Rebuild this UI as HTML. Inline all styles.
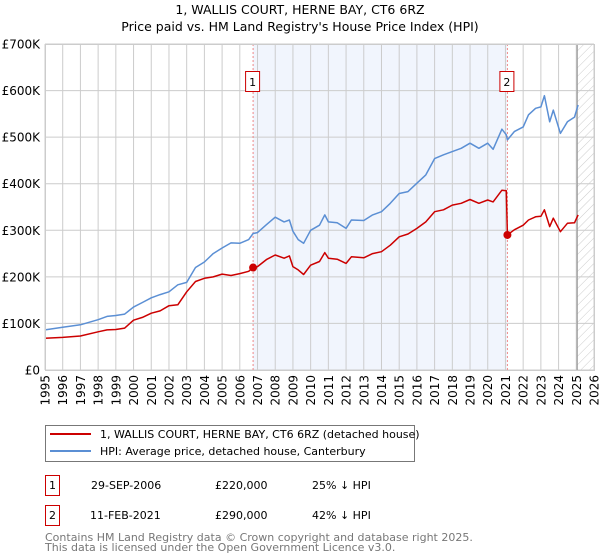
<!DOCTYPE html>
<html><head><meta charset="utf-8"><style>
body{margin:0;background:#fff;font-family:"Liberation Sans","DejaVu Sans",sans-serif;}
svg{display:block}
</style></head><body>
<svg id="c" width="600" height="560" xmlns="http://www.w3.org/2000/svg" font-family="DejaVu Sans, Liberation Sans, sans-serif">
<text x="300" y="14" text-anchor="middle" font-size="12.5">1, WALLIS COURT, HERNE BAY, CT6 6RZ</text>
<text x="300" y="31" text-anchor="middle" font-size="12.5">Price paid vs. HM Land Registry's House Price Index (HPI)</text>
<g id="plot"></g>
<g>
<rect x="45.5" y="425.5" width="369" height="36" fill="#fff" stroke="#777"/>
<line x1="50" y1="434" x2="91" y2="434" stroke="#cc0000" stroke-width="2"/>
<text x="100" y="438" font-size="11">1, WALLIS COURT, HERNE BAY, CT6 6RZ (detached house)</text>
<line x1="50" y1="451" x2="91" y2="451" stroke="#5b8fd4" stroke-width="2"/>
<text x="100" y="455" font-size="11">HPI: Average price, detached house, Canterbury</text>
</g>
<g font-size="11">
<rect x="45.5" y="475.5" width="14" height="20" fill="#fff" stroke="#cc0000"/>
<text x="52.5" y="489" text-anchor="middle">1</text>
<text x="91" y="489">29-SEP-2006</text>
<text x="215" y="489">£220,000</text>
<text x="312" y="489">25% ↓ HPI</text>
<rect x="45.5" y="505.5" width="14" height="20" fill="#fff" stroke="#cc0000"/>
<text x="52.5" y="519" text-anchor="middle">2</text>
<text x="90" y="519">11-FEB-2021</text>
<text x="215" y="519">£290,000</text>
<text x="312" y="519">42% ↓ HPI</text>
</g>
<text x="45" y="541" font-size="11" fill="#777">Contains HM Land Registry data © Crown copyright and database right 2025.</text>
<text x="45" y="551" font-size="11" fill="#777">This data is licensed under the Open Government Licence v3.0.</text>
</svg>
<script>
const dates=[1995,1996,1997,1998,1998.5,1999,1999.5,2000,2000.5,2001,2001.5,2002,2002.5,2003,2003.5,2004,2004.5,2005,2005.5,2006,2006.5,2006.75,2007,2007.5,2008,2008.5,2008.8,2009,2009.3,2009.6,2010,2010.5,2010.8,2011,2011.5,2012,2012.3,2013,2013.5,2014,2014.5,2015,2015.5,2016,2016.5,2017,2017.5,2018,2018.5,2019,2019.5,2020,2020.3,2020.8,2021.05,2021.11,2021.5,2022,2022.3,2022.7,2023,2023.2,2023.5,2023.7,2024.1,2024.5,2024.9,2025.1];
const hpiValues=[86,92,97,108,115,117,120,135,145,155,162,168,183,188,220,232,250,262,273,272,280,293,295,312,328,318,322,298,280,272,300,311,333,318,316,304,322,321,333,340,358,379,383,401,419,454,462,469,476,487,476,487,474,517,505,494,512,522,548,562,565,589,533,558,508,533,543,569];
const priceValues=[68,70,73,82,86,87,90,107,113,122,127,138,140,168,190,197,200,206,203,207,212,220,222,237,247,240,245,222,215,205,225,233,252,240,238,229,243,241,250,254,268,286,292,304,318,340,344,354,358,366,358,365,361,386,385,290,301,311,322,329,330,344,308,326,297,315,316,333];
const yTicks=[0,100,200,300,400,500,600,700];
const yTickLabels=["£0","£100K","£200K","£300K","£400K","£500K","£600K","£700K"];
const sales=[{d:2006.75,v:220,n:"1"},{d:2021.11,v:290,n:"2"}];
const X0=45,X1=594,Y0=370,Y1=44;
const xs=y=>X0+(y-1995)*(X1-X0)/31;
const ys=v=>Y0-(v/700)*(Y0-Y1);
const NS="http://www.w3.org/2000/svg";
const plot=document.getElementById('plot');
function mk(t,a,p){const e=document.createElementNS(NS,t);for(const k in a)e.setAttribute(k,a[k]);(p||plot).appendChild(e);return e;}
// shading
let sh=mk('rect',{x:xs(2006.75),y:Y1,width:xs(2021.11)-xs(2006.75),height:Y0-Y1,fill:'#eef3fc',opacity:0.8});


// hatch
const defs=mk('defs',{});
const pat=mk('pattern',{id:'h',width:6,height:6,patternUnits:'userSpaceOnUse',patternTransform:'rotate(45)'},defs);
mk('line',{x1:0,y1:0,x2:0,y2:6,stroke:'#ccc','stroke-width':1},pat);
let ht=mk('rect',{x:xs(2025.05),y:Y1,width:X1-xs(2025.05),height:Y0-Y1,fill:'url(#h)'});


// grid
for(let y=1995;y<=2026;y++){
 mk('line',{x1:xs(y),y1:Y1,x2:xs(y),y2:Y0,stroke:'#ccc','stroke-width':1});
 const t=mk('text',{x:0,y:0,'font-size':12,'text-anchor':'end',transform:`translate(${xs(y)+4.5},${Y0+5}) rotate(-90)`});
 t.textContent=y;
 
 
}
yTicks.forEach((v,i)=>{
 mk('line',{x1:X0,y1:ys(v),x2:X1,y2:ys(v),stroke:'#ccc','stroke-width':1});
 const t=mk('text',{x:40,y:ys(v)+4.5,'font-size':12,'text-anchor':'end'});
 t.textContent=yTickLabels[i];
 
 
});
mk('line',{x1:xs(2025.05),y1:Y1,x2:xs(2025.05),y2:Y0,stroke:'#999','stroke-width':1.2});
// sale lines
sales.forEach(s=>{
 mk('line',{x1:xs(s.d),y1:Y1,x2:xs(s.d),y2:Y0,stroke:'#e88','stroke-width':1,'stroke-dasharray':'2,2'});
});
function path(vals,col,name){
 const d=dates.map((x,i)=>(i?'L':'M')+xs(x).toFixed(1)+','+ys(vals[i]).toFixed(1)).join('');
 const p=mk('path',{d:d,fill:'none',stroke:col,'stroke-width':1.5,'stroke-linejoin':'round'});
 
 
}
path(hpiValues,'#5b8fd4','hpi-line');
path(priceValues,'#cc0000','price-paid-line');
sales.forEach(s=>{
 const c=mk('circle',{cx:xs(s.d),cy:ys(s.v),r:4,fill:'#cc0000'});
 
 
 const b=mk('rect',{x:xs(s.d)-7.5,y:71.5,width:14,height:20,fill:'#fff',stroke:'#cc0000'});
 
 
 const t=mk('text',{x:xs(s.d)-0.5,y:86,'font-size':11,'text-anchor':'middle'});
 t.textContent=s.n;
});
mk('rect',{x:X0+0.5,y:Y1+0.5,width:X1-X0,height:Y0-Y1,fill:'none',stroke:'#ccc'});
</script>
</body></html>
